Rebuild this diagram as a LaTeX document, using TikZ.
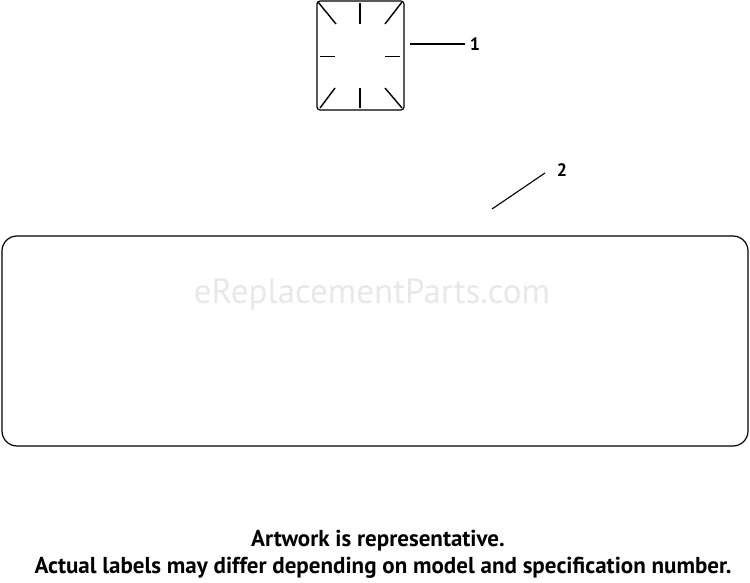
\documentclass[tikz,border=0pt]{standalone}
\usepackage{fontspec}
\setmainfont{PT Sans}
\usepackage{tikz}

\tikzset{
  outline/.style={line width=1.2pt, rounded corners=3pt},
  tick/.style={line width=1.4pt},
  leader/.style={line width=1.1pt},
  callout/.style={font=\bfseries\fontsize{18}{18}\selectfont, inner sep=0pt},
  note/.style={font=\bfseries\fontsize{23}{24}\selectfont, inner sep=0pt}
}

\begin{document}
\begin{tikzpicture}[x=1pt,y=-1pt]
	\useasboundingbox (0,0) rectangle (750,583);
	% watermark
	\node[font=\fontsize{35}{35}\selectfont, text=black!9] (wm) at (372,295) {eReplacementParts.com};
	% small decal
	\node[draw, outline, minimum width=87pt, minimum height=109pt, inner sep=0pt] (decal) at (360.5,55.5) {};
	\draw[tick] (318,2) -- (336,24);
	\draw[tick] (360,3) -- (360,24);
	\draw[tick] (402,2) -- (385,24);
	\draw[thin] (320,56) -- (335,56);
	\draw[thin] (385,56) -- (400,56);
	\draw[tick] (320,108) -- (335,88);
	\draw[tick] (360,88) -- (360,108);
	\draw[tick] (385,88) -- (402,108);
	% large decal
	\node[draw, line width=1.2pt, rounded corners=15pt, minimum width=746pt, minimum height=210pt, inner sep=0pt] (panel) at (375,341) {};
	% callouts
	\node[callout] (n1) at (475,44) {1};
	\node[callout] (n2) at (562,170) {2};
	\coordinate (e1) at (410,44);
	\coordinate (e2) at (492,209);
	\draw[leader] (e1) -- ([xshift=-5pt]n1.west);
	\draw[leader] (e2) -- (545,173);
	% notes
	\node[note] (t1) at (378,541) {Artwork is representative.};
	\node[note] (t2) at (383,568) {Actual labels may differ depending on model and specification number.};
\end{tikzpicture}
\end{document}
